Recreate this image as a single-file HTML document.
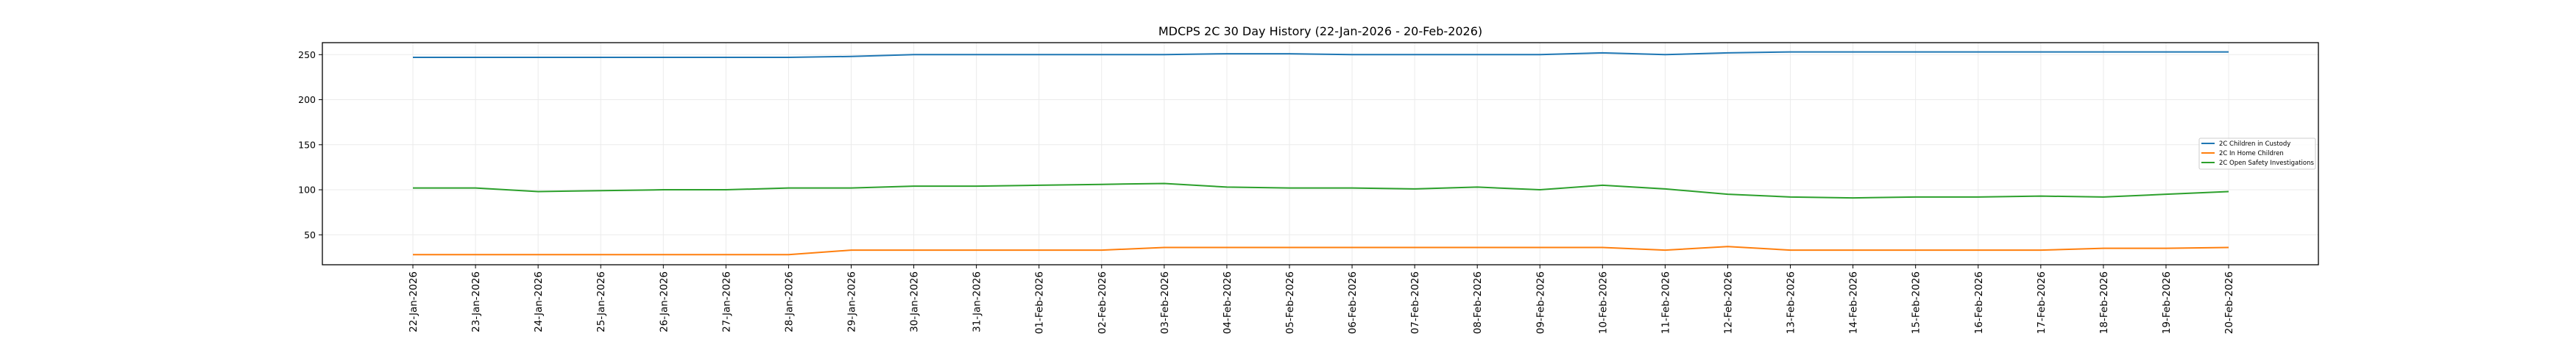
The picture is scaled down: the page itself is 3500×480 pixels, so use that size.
<!DOCTYPE html>
<html><head><meta charset="utf-8"><style>
html,body{margin:0;padding:0;background:#fff;width:3500px;height:480px;overflow:hidden}
svg text{font-family:"DejaVu Sans","Liberation Sans",sans-serif;fill:#000}
</style></head><body>
<svg id="chart" width="3500" height="480" xmlns="http://www.w3.org/2000/svg">
<text x="1794" y="48" text-anchor="middle" font-size="16">MDCPS 2C 30 Day History (22-Jan-2026 - 20-Feb-2026)</text>
<g id="grid"></g><g id="lines"></g><g id="ticks"></g>
<rect x="438" y="58" width="2712" height="302" fill="none" stroke="#000" stroke-width="1.3"/>
<g>
<rect x="2988" y="188" width="158" height="42" fill="#fff" fill-opacity="0.8" stroke="#ccc" stroke-width="1" rx="2"/>
<line x1="2991" y1="195" x2="3009" y2="195" stroke="#1f77b4" stroke-width="2"/>
<text x="3015" y="198" font-size="8.5">2C Children in Custody</text>
<line x1="2991" y1="208" x2="3009" y2="208" stroke="#ff7f0e" stroke-width="2"/>
<text x="3015" y="211" font-size="8.5">2C In Home Children</text>
<line x1="2991" y1="221" x2="3009" y2="221" stroke="#2ca02c" stroke-width="2"/>
<text x="3015" y="224" font-size="8.5">2C Open Safety Investigations</text>
</g>
</svg>
<script>
const dates=["22-Jan-2026","23-Jan-2026","24-Jan-2026","25-Jan-2026","26-Jan-2026","27-Jan-2026","28-Jan-2026","29-Jan-2026","30-Jan-2026","31-Jan-2026","01-Feb-2026","02-Feb-2026","03-Feb-2026","04-Feb-2026","05-Feb-2026","06-Feb-2026","07-Feb-2026","08-Feb-2026","09-Feb-2026","10-Feb-2026","11-Feb-2026","12-Feb-2026","13-Feb-2026","14-Feb-2026","15-Feb-2026","16-Feb-2026","17-Feb-2026","18-Feb-2026","19-Feb-2026","20-Feb-2026"];
const custody=[247,247,247,247,247,247,247,248,250,250,250,250,250,251,251,250,250,250,250,252,250,252,253,253,253,253,253,253,253,253];
const inHome=[28,28,28,28,28,28,28,33,33,33,33,33,36,36,36,36,36,36,36,36,33,37,33,33,33,33,33,35,35,36];
const investigations=[102,102,98,99,100,100,102,102,104,104,105,106,107,103,102,102,101,103,100,105,101,95,92,91,92,92,93,92,95,98];
const yTicks=[50,100,150,200,250];
const NS="http://www.w3.org/2000/svg";
const X0=561,DX=85.07,Y250=74.3,PPU=1.225;
const xs=i=>X0+i*DX;
const ys=v=>Y250-(v-250)*PPU;
function mk(tag,attrs,parent){const e=document.createElementNS(NS,tag);for(const k in attrs)e.setAttribute(k,attrs[k]);document.getElementById(parent).appendChild(e);return e;}
dates.forEach((d,i)=>{
  const g=mk("line",{x1:xs(i),x2:xs(i),y1:58,y2:360,stroke:"#ebebeb","stroke-width":1},"grid");
  
  
  const t=mk("line",{x1:xs(i),x2:xs(i),y1:360,y2:365,stroke:"#000","stroke-width":1},"ticks");
  
  
  const lb=mk("text",{x:0,y:0,"font-size":13.5,"text-anchor":"end",transform:`translate(${xs(i)+5},369) rotate(-90)`},"ticks");
  lb.textContent=d;
  
  
});
yTicks.forEach(v=>{
  const g=mk("line",{x1:438,x2:3150,y1:ys(v),y2:ys(v),stroke:"#ebebeb","stroke-width":1},"grid");
  
  
  const t=mk("line",{x1:433,x2:438,y1:ys(v),y2:ys(v),stroke:"#000","stroke-width":1},"ticks");
  
  
  const lb=mk("text",{x:429,y:ys(v)+4.5,"font-size":12.5,"text-anchor":"end"},"ticks");
  lb.textContent=v;
  
  
});
[[custody,"#1f77b4","custody-line"],[inHome,"#ff7f0e","in-home-line"],[investigations,"#2ca02c","investigations-line"]].forEach(([arr,c,n])=>{
  const p=mk("polyline",{points:arr.map((v,i)=>xs(i)+","+ys(v)).join(" "),fill:"none",stroke:c,"stroke-width":2,"stroke-linejoin":"round"},"lines");
  
  
});
</script>
</body></html>
